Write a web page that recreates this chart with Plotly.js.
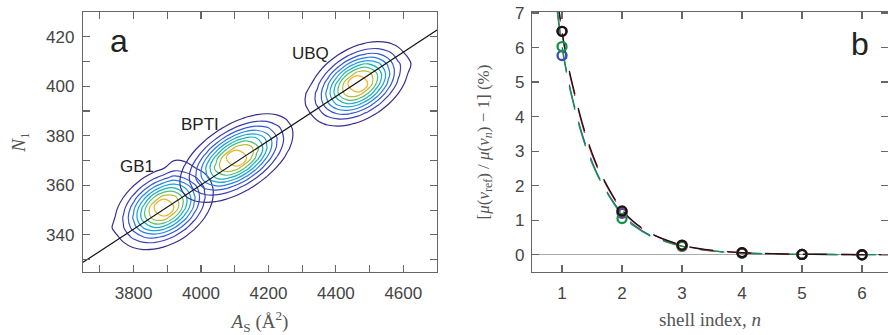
<!DOCTYPE html>
<html><head><meta charset="utf-8">
<script src="https://cdn.plot.ly/plotly-3.0.1.min.js"></script>
<style>html,body{margin:0;padding:0;background:#fff;}#chart{width:888px;height:335px;}</style>
</head><body><div id="chart"></div>
<script>
// ---------- panel a : density contours ----------
const gb1X = [3710, 3740, 3770, 3800, 3830, 3860, 3890, 3920, 3950, 3980, 4010, 4040, 4070];
const gb1Y = [331, 335, 339, 343, 347, 351, 355, 359, 363, 367, 371];
const gb1Z = [
 [-3.15, -2.08, -1.26, -0.75, -0.58, -0.78, -1.32, -2.16, -3.24, -4.52, -5.93, -7.45, -9.06],
 [-2.07, -0.76, 0.34, 1.12, 1.50, 1.44, 0.94, 0.07, -1.09, -2.45, -3.96, -5.57, -7.26],
 [-1.35, 0.22, 1.62, 2.75, 3.47, 3.64, 3.21, 2.28, 1.02, -0.47, -2.10, -3.81, -5.59],
 [-1.06, 1.30, 2.43, 3.96, 5.17, 5.75, 5.47, 4.46, 3.02, 1.37, -0.39, -2.22, -4.09],
 [-1.22, 0.71, 2.61, 4.47, 6.22, 7.58, 7.74, 6.51, 4.80, 2.96, 1.06, -0.87, -2.81],
 [-1.82, 0.15, 2.12, 4.09, 6.06, 8.03, 10, 8.03, 6.06, 4.09, 2.12, 0.15, -1.82],
 [-2.81, -0.87, 1.06, 2.96, 4.80, 6.51, 7.74, 7.58, 6.22, 4.47, 2.61, 0.71, -1.22],
 [-4.09, -2.22, -0.39, 1.37, 3.02, 4.46, 5.47, 5.75, 5.17, 3.96, 2.43, 0.73, -1.06],
 [-5.59, -3.81, -2.10, -0.47, 1.02, 2.28, 3.21, 3.90, 3.47, 2.75, 1.62, 0.22, -1.35],
 [-7.26, -5.57, -3.96, -2.45, -1.09, 0.07, 0.94, 1.90, 1.80, 1.12, 0.34, -0.76, -2.07],
 [-9.06, -7.45, -5.93, -4.52, -3.24, -2.16, -1.32, 0.70, 0.60, -0.75, -1.26, -2.08, -3.15]
];
const bptiX = [3925, 3955, 3985, 4015, 4045, 4075, 4105, 4135, 4165, 4195, 4225, 4255, 4285];
const bptiY = [351, 355, 359, 363, 367, 371, 375, 379, 383, 387, 391];
const bptiZ = [
 [-1.21, -0.49, -0.10, -0.05, -0.37, -1.02, -1.94, -3.08, -4.39, -5.82, -7.34, -8.94, -10.59],
 [-0.20, 0.86, 1.61, 1.96, 1.86, 1.34, 0.45, -0.72, -2.07, -3.56, -5.15, -6.81, -8.51],
 [0.31, 1.72, 2.90, 3.70, 3.98, 3.67, 2.83, 1.64, 0.21, -1.36, -3.03, -4.75, -6.52],
 [0.24, 1.95, 3.54, 4.90, 5.80, 5.93, 5.22, 3.96, 2.42, 0.74, -1.01, -2.82, -4.65],
 [-0.39, 1.48, 3.33, 5.12, 6.77, 7.90, 7.61, 6.21, 4.49, 2.68, 0.82, -1.06, -2.95],
 [-1.49, 0.42, 2.34, 4.25, 6.17, 8.08, 10, 8.08, 6.17, 4.25, 2.34, 0.42, -1.49],
 [-2.95, -1.06, 0.82, 2.68, 4.49, 6.21, 7.61, 7.90, 6.77, 5.12, 3.33, 1.48, -0.39],
 [-4.65, -2.82, -1.01, 0.74, 2.42, 3.96, 5.22, 5.93, 5.80, 4.90, 3.54, 1.95, 0.24],
 [-6.52, -4.75, -3.03, -1.36, 0.21, 1.64, 2.83, 3.67, 3.98, 3.70, 2.90, 1.72, 0.31],
 [-8.51, -6.81, -5.15, -3.56, -2.07, -0.72, 0.45, 1.34, 1.86, 1.96, 1.61, 0.86, -0.20],
 [-10.59, -8.94, -7.34, -5.82, -4.39, -3.08, -1.94, -1.02, -0.37, -0.05, -0.10, -0.49, -1.21]
];
const ubqX = [4285, 4315, 4345, 4375, 4405, 4435, 4465, 4495, 4525, 4555, 4585, 4615, 4645];
const ubqY = [381, 385, 389, 393, 397, 401, 405, 409, 413, 417, 421];
const ubqZ = [
 [-2.70, -1.72, -1.00, -0.60, -0.56, -0.88, -1.53, -2.46, -3.60, -4.92, -6.37, -7.92, -9.54],
 [-1.64, -0.39, 0.62, 1.30, 1.57, 1.39, 0.78, -0.18, -1.40, -2.80, -4.34, -5.97, -7.66],
 [-0.97, 0.56, 1.91, 2.97, 3.58, 3.62, 3.08, 2.08, 0.76, -0.75, -2.39, -4.12, -5.90],
 [-0.77, 1.40, 2.68, 4.18, 5.31, 5.79, 5.39, 4.30, 2.83, 1.17, -0.60, -2.42, -4.29],
 [-1.05, 1.30, 2.77, 4.62, 6.34, 7.66, 7.69, 6.42, 4.70, 2.86, 0.96, -0.96, -2.89],
 [-1.78, 0.18, 2.15, 4.11, 6.07, 8.04, 10, 8.04, 6.07, 4.11, 2.15, 0.18, -1.78],
 [-2.89, -0.96, 0.96, 2.86, 4.70, 6.42, 7.69, 7.66, 6.34, 4.62, 2.77, 0.87, -1.05],
 [-4.29, -2.42, -0.60, 1.17, 2.83, 4.30, 5.39, 5.79, 5.31, 4.18, 2.68, 1.60, -0.77],
 [-5.90, -4.12, -2.39, -0.75, 0.76, 2.08, 3.08, 3.62, 3.58, 2.97, 1.91, 0.56, -0.97],
 [-7.66, -5.97, -4.34, -2.80, -1.40, -0.18, 0.78, 1.39, 1.57, 1.30, 0.62, -0.39, -1.64],
 [-9.54, -7.92, -6.37, -4.92, -3.60, -2.46, -1.53, -0.88, -0.56, -0.60, -1.00, -1.72, -2.70]
];
// contour levels (density) and their line colours, outermost first
const contourLevels = [1, 2.48, 3.49, 4.32, 5.06, 5.76, 6.46, 7.20, 8.07];
const levelColors = ['#3a2d90', '#3c40b8', '#3558d6', '#2a7ee6', '#1aa0d8', '#14b5b5', '#50bd80', '#b8bc3a', '#f2b424'];
const fitX = [3650, 4700];
const fitY = [328.9, 422.7];
const proteinNames = ["GB1", "BPTI", "UBQ"];
const proteinLabelX = [3809, 3997, 4324];
const proteinLabelY = [367.7, 384.7, 413.4];

// ---------- panel b : shell convergence ----------
const shellN = [1, 2, 3, 4, 5, 6];
const ptsBlue  = [5.77, 1.20, 0.26, 0.05, 0.01, 0.0];
const ptsGreen = [6.03, 1.05, 0.24, 0.05, 0.01, 0.0];
const ptsRed   = [6.47, 1.25, 0.27, 0.06, 0.01, 0.0];
const ptsBlack = [6.47, 1.27, 0.28, 0.06, 0.01, 0.0];
const curveN     = [0.92, 1.0, 1.1, 1.2, 1.3, 1.4, 1.5, 1.6, 1.8, 2.0, 2.2, 2.5, 3.0, 3.5, 4.0, 4.5, 5.0, 6.0, 6.5];
const curveBlue  = [7.1, 6.05, 5.1, 4.35, 3.7, 3.15, 2.7, 2.3, 1.68, 1.2, 0.86, 0.54, 0.25, 0.11, 0.05, 0.025, 0.012, 0.003, 0.001];
const curveGreen = [7.05, 6.0, 5.05, 4.3, 3.65, 3.1, 2.65, 2.27, 1.65, 1.15, 0.83, 0.52, 0.24, 0.11, 0.05, 0.024, 0.012, 0.003, 0.001];
const curveRed   = [7.45, 6.43, 5.45, 4.7, 4.0, 3.4, 2.9, 2.48, 1.82, 1.28, 0.93, 0.59, 0.27, 0.12, 0.06, 0.03, 0.014, 0.004, 0.002];
const curveBlack = [7.5, 6.47, 5.5, 4.75, 4.05, 3.45, 2.95, 2.52, 1.85, 1.3, 0.95, 0.6, 0.28, 0.13, 0.06, 0.03, 0.015, 0.004, 0.002];

// ---------- styling ----------
const seriesColors = {blue:'#3a4fb0', green:'#18924a', red:'#cc2a2a', black:'#151515'};
const axisColor = '#666';
const tickFont = {family:'Liberation Sans, Arial, sans-serif', size:17, color:'#444'};
const titleFont = {family:'Liberation Serif, Times New Roman, serif', size:19, color:'#555'};

const traces = [];
[[gb1X, gb1Y, gb1Z], [bptiX, bptiY, bptiZ], [ubqX, ubqY, ubqZ]].forEach(function(p){
  contourLevels.forEach(function(L, k){
    traces.push({type:'contour', x:p[0], y:p[1], z:p[2], xaxis:'x', yaxis:'y',
      autocontour:false, showscale:false, hoverinfo:'skip',
      contours:{coloring:'none', start:L, end:L, size:1, showlabels:false},
      line:{width:1.2, smoothing:1.3, color:levelColors[k]}});
  });
});
traces.push({type:'scatter', mode:'lines', x:fitX, y:fitY, xaxis:'x', yaxis:'y', line:{color:'#111', width:1.2}});

const curveSets = [['blue', curveBlue, ptsBlue], ['green', curveGreen, ptsGreen], ['red', curveRed, ptsRed], ['black', curveBlack, ptsBlack]];
curveSets.forEach(function(s){
  traces.push({type:'scatter', mode:'lines', x:curveN, y:s[1], xaxis:'x2', yaxis:'y2',
    line:{color:seriesColors[s[0]], width:1.3, dash:'24px,14px', shape:'spline'}});
});
curveSets.forEach(function(s){
  traces.push({type:'scatter', mode:'markers', x:shellN, y:s[2], xaxis:'x2', yaxis:'y2', cliponaxis:false,
    marker:{symbol:'circle-open', size:9, color:seriesColors[s[0]], line:{width:2.3, color:seriesColors[s[0]]}}});
});

function axisBase(extra) {
  return Object.assign({showline:true, linecolor:axisColor, linewidth:1.2, mirror:'ticks',
    ticks:'inside', ticklen:7, tickcolor:axisColor, tickwidth:1.2, showgrid:false, zeroline:false,
    tickfont:tickFont, automargin:false}, extra);
}
const annotations = [
  {text:'a', x:3756, y:418.3, xref:'x', yref:'y', showarrow:false, font:{family:'Liberation Sans, Arial, sans-serif', size:32, color:'#222'}},
  {text:'b', x:5.97, y:6.1, xref:'x2', yref:'y2', showarrow:false, font:{family:'Liberation Sans, Arial, sans-serif', size:32, color:'#222'}}
];
proteinNames.forEach(function(n, i){
  annotations.push({text:n, x:proteinLabelX[i], y:proteinLabelY[i], xref:'x', yref:'y', showarrow:false,
    font:{family:'Liberation Sans, Arial, sans-serif', size:17, color:'#222'}});
});

const layout = {
  width:888, height:335, margin:{l:83, r:0, t:12, b:63},
  paper_bgcolor:'#fff', plot_bgcolor:'#fff', showlegend:false,
  xaxis: axisBase({domain:[0, 0.4398], range:[3650, 4700], tick0:3800, dtick:200, ticklabelstandoff:5,
    minor:{dtick:100, tick0:3700, ticks:'inside', ticklen:7, tickcolor:axisColor, tickwidth:1.2},
    title:{text:'<i>A</i><sub>S</sub> (Å<sup>2</sup>)', font:titleFont, standoff:13}}),
  yaxis: axisBase({domain:[0,1], range:[325, 430], tick0:340, dtick:20, anchor:'x', ticklabelstandoff:4,
    minor:{dtick:10, tick0:330, ticks:'inside', ticklen:7, tickcolor:axisColor, tickwidth:1.2},
    title:{text:'<i>N</i><sub>1</sub>', font:titleFont, standoff:15}}),
  xaxis2: axisBase({domain:[0.5578, 1], range:[0.5, 6.433], tick0:1, dtick:1, anchor:'y2', ticklabelstandoff:5,
    title:{text:'shell index, <i>n</i>', font:titleFont, standoff:11}}),
  yaxis2: axisBase({domain:[0,1], range:[-0.5, 7.03], tick0:0, dtick:1, anchor:'x2', ticklabelstandoff:3,
    zeroline:true, zerolinecolor:'#aaa', zerolinewidth:1,
    title:{text:'[<i>μ</i>(<i>v</i><sub>ref</sub>) / <i>μ</i>(<i>v</i><sub><i>n</i></sub>) − 1] (%)', font:Object.assign({}, titleFont, {size:17}), standoff:21}}),
  annotations: annotations
};
Plotly.newPlot('chart', traces, layout, {displayModeBar:false, staticPlot:true});
</script>
</body></html>
